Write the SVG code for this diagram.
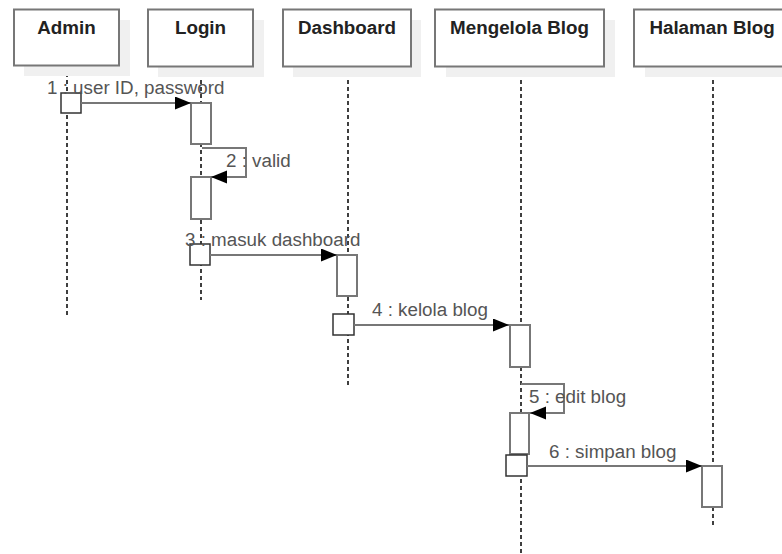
<svg xmlns="http://www.w3.org/2000/svg" width="782" height="554" viewBox="0 0 782 554">
  <style>
    .shadow { fill: #f0f0f0; stroke: none; }
    .head { fill: #ffffff; stroke: #777777; stroke-width: 2; }
    .head-text { font-family: "Liberation Sans", Arial, sans-serif; font-size: 18.8px; font-weight: bold; fill: #222222; text-anchor: middle; }
    .life { stroke: #000000; stroke-width: 1.5; stroke-dasharray: 4 3; fill: none; }
    .act { fill: #ffffff; stroke: #777777; stroke-width: 2; }
    .start { fill: #ffffff; stroke: #333333; stroke-width: 1.5; }
    .msg { fill: none; stroke: #777777; stroke-width: 2; marker-end: url(#arrow); }
    .label { font-family: "Liberation Sans", Arial, sans-serif; font-size: 18.8px; fill: #555555; }
  </style>
  <defs>
    <marker id="arrow" markerUnits="userSpaceOnUse" markerWidth="16" markerHeight="14" refX="16" refY="6.5" orient="auto">
      <path d="M0,0 L16,6.5 L0,13 z" fill="#000000"/>
    </marker>
  </defs>
  <rect width="782" height="554" fill="#ffffff"/>

  <!-- lifelines -->
  <g id="lifelines">
    <line class="life" x1="67" y1="66" x2="67" y2="318"/>
    <line class="life" x1="201" y1="66" x2="201" y2="300"/>
    <line class="life" x1="348" y1="66" x2="348" y2="388"/>
    <line class="life" x1="521" y1="66" x2="521" y2="554"/>
    <line class="life" x1="713" y1="66" x2="713" y2="527"/>
  </g>

  <!-- participant heads -->
  <g id="admin">
    <rect class="shadow" x="24" y="20" width="106" height="56"/>
    <rect class="head" x="14" y="9.5" width="105" height="56"/>
    <text class="head-text" x="66.5" y="34">Admin</text>
    <rect class="start" x="61" y="93" width="20" height="20"/>
  </g>
  <g id="login">
    <rect class="shadow" x="158" y="20" width="106" height="57"/>
    <rect class="head" x="148" y="9.5" width="105" height="57"/>
    <text class="head-text" x="200.5" y="34">Login</text>
    <rect class="act" x="191" y="103" width="20" height="41"/>
    <rect class="act" x="191" y="177" width="20" height="42"/>
    <rect class="start" x="190" y="244" width="20" height="21"/>
  </g>
  <g id="dashboard">
    <rect class="shadow" x="293" y="20" width="128" height="57"/>
    <rect class="head" x="283" y="9.5" width="128" height="57"/>
    <text class="head-text" x="347" y="34">Dashboard</text>
    <rect class="act" x="337" y="255" width="20" height="41"/>
    <rect class="start" x="333" y="314" width="21" height="21"/>
  </g>
  <g id="mengelola-blog">
    <rect class="shadow" x="446" y="20" width="169" height="57"/>
    <rect class="head" x="435" y="9.5" width="169" height="57"/>
    <text class="head-text" x="519.5" y="34">Mengelola Blog</text>
    <rect class="act" x="510" y="325" width="20" height="42"/>
    <rect class="act" x="510" y="413" width="19" height="41"/>
    <rect class="start" x="506" y="455" width="21" height="21"/>
  </g>
  <g id="halaman-blog">
    <rect class="shadow" x="645" y="20" width="160" height="57"/>
    <rect class="head" x="634" y="9.5" width="160" height="57"/>
    <text class="head-text" x="712" y="34">Halaman Blog</text>
    <rect class="act" x="702" y="466" width="20" height="41"/>
  </g>

  <!-- messages -->
  <g id="connectors">
    <line class="msg" x1="81" y1="103" x2="191" y2="103"/>
    <path class="msg" d="M202,148 H246 V177 H211"/>
    <line class="msg" x1="210" y1="255" x2="337" y2="255"/>
    <line class="msg" x1="354" y1="325" x2="509" y2="325"/>
    <path class="msg" d="M521,384 H564 V413 H530"/>
    <line class="msg" x1="527" y1="466" x2="702" y2="466"/>
  </g>

  <g id="labels">
    <text class="label" x="47" y="94">1 : user ID, password</text>
    <text class="label" x="226" y="167">2 : valid</text>
    <text class="label" x="185" y="246">3 : masuk dashboard</text>
    <text class="label" x="372" y="316">4 : kelola blog</text>
    <text class="label" x="529" y="403">5 : edit blog</text>
    <text class="label" x="549" y="458">6 : simpan blog</text>
  </g>
</svg>
